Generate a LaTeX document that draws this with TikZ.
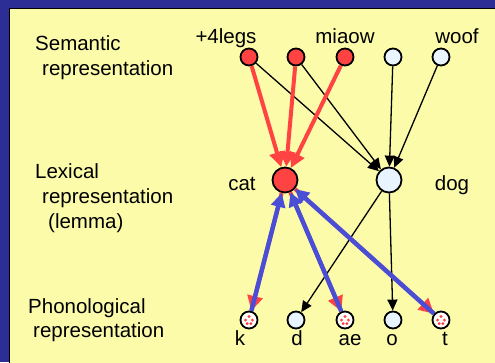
\documentclass[tikz,border=0pt]{standalone}
\usepackage{fontspec}
\setmainfont{Liberation Sans}
\usetikzlibrary{arrows.meta}
\definecolor{frameblue}{HTML}{2C2E96}
\definecolor{panel}{HTML}{FBFBAA}
\definecolor{actred}{HTML}{FF4242}
\definecolor{idle}{HTML}{E8F4FF}
\definecolor{linkblue}{HTML}{4A4ED6}

\begin{document}
\begin{tikzpicture}[x=1pt,y=-1pt,
  unit/.style={circle,draw=black,line width=1.8pt,minimum size=17pt,inner sep=0pt},
  active/.style={unit,fill=actred},
  idleunit/.style={unit,fill=idle},
  lexactive/.style={active,minimum size=25pt},
  lexidle/.style={idleunit,minimum size=25pt},
  phon/.style={unit,fill=white,path picture={
      \foreach \dx/\dy in {0/-3.6,-3.4/0,3.4/0,-1.9/3.6,1.9/3.6}
        \fill[actred] ([shift={(\dx,\dy)}]path picture bounding box.center) circle (1.6);}},
  lbl/.style={font=\fontsize{20.5}{25}\selectfont,inner sep=0pt},
  thinarrow/.style={draw=black,line width=1.3pt,-{Triangle[length=11pt,width=10pt]}},
  redarrow/.style={draw=actred,line width=4pt,-{Triangle[length=15pt,width=15pt]}},
  bluearrow/.style={draw=linkblue,line width=4.5pt,-{Triangle[length=14pt,width=14pt]}}
]
\useasboundingbox (0,0) rectangle (495,362);
% frame and panel
\fill[frameblue] (0,0) rectangle (495,362);
\filldraw[fill=panel,draw=black,line width=0.8pt] (9,8) rectangle (497,364);

% row captions
\node[lbl,anchor=base west] (semA) at (35,50) {Semantic};
\node[lbl,anchor=base west] (semB) at (42,75) {representation};
\node[lbl,anchor=base west] (lexA) at (35,178) {Lexical};
\node[lbl,anchor=base west] (lexB) at (42,203) {representation};
\node[lbl,anchor=base west] (lexC) at (48,228) {(lemma)};
\node[lbl,anchor=base west] (phA) at (28,313) {Phonological};
\node[lbl,anchor=base west] (phB) at (33,337) {representation};

% semantic features
\node[active] (s1) at (249,57) {};
\node[active] (s2) at (296,57) {};
\node[active] (s3) at (345,57) {};
\node[idleunit] (s4) at (393,57) {};
\node[idleunit] (s5) at (441,57) {};
\node[lbl,anchor=base] (tlegs) at (226,43) {+4legs};
\node[lbl,anchor=base] (tmiaow) at (345,43) {miaow};
\node[lbl,anchor=base] (twoof) at (457,43) {woof};

% lemmas
\node[lexactive] (cat) at (285,180) {};
\node[lexidle] (dog) at (389,180) {};
\node[lbl,anchor=base] (tcat) at (242,190) {cat};
\node[lbl,anchor=base] (tdog) at (452,190) {dog};

% phonemes
\node[phon] (k) at (249,320) {};
\node[idleunit] (d) at (296,320) {};
\node[phon] (ae) at (345,320) {};
\node[idleunit] (o) at (393,320) {};
\node[phon] (t) at (441,320) {};
\node[lbl,anchor=base] (tk) at (240,345) {k};
\node[lbl,anchor=base] (td) at (297,345) {d};
\node[lbl,anchor=base] (tae) at (350,345) {ae};
\node[lbl,anchor=base] (to) at (392,345) {o};
\node[lbl,anchor=base] (tt) at (445,345) {t};

% links to the dog lemma
\draw[thinarrow] (s1) -- (dog);
\draw[thinarrow] (s2) -- (dog);
\draw[thinarrow] (s4) -- (dog);
\draw[thinarrow] (s5) -- (dog);
\draw[thinarrow] (dog) -- (d);
\draw[thinarrow] (dog) -- (o);

% activation into the cat lemma
\draw[redarrow] (s1) -- (cat);
\draw[redarrow] (s2) -- (cat);
\draw[redarrow] (s3) -- (cat);

% two-way links between cat and its phonemes
\foreach \p in {k,ae,t}{
  \draw[redarrow] (cat) -- (\p);
  \draw[bluearrow] (\p) -- (cat);
}
\end{tikzpicture}
\end{document}
